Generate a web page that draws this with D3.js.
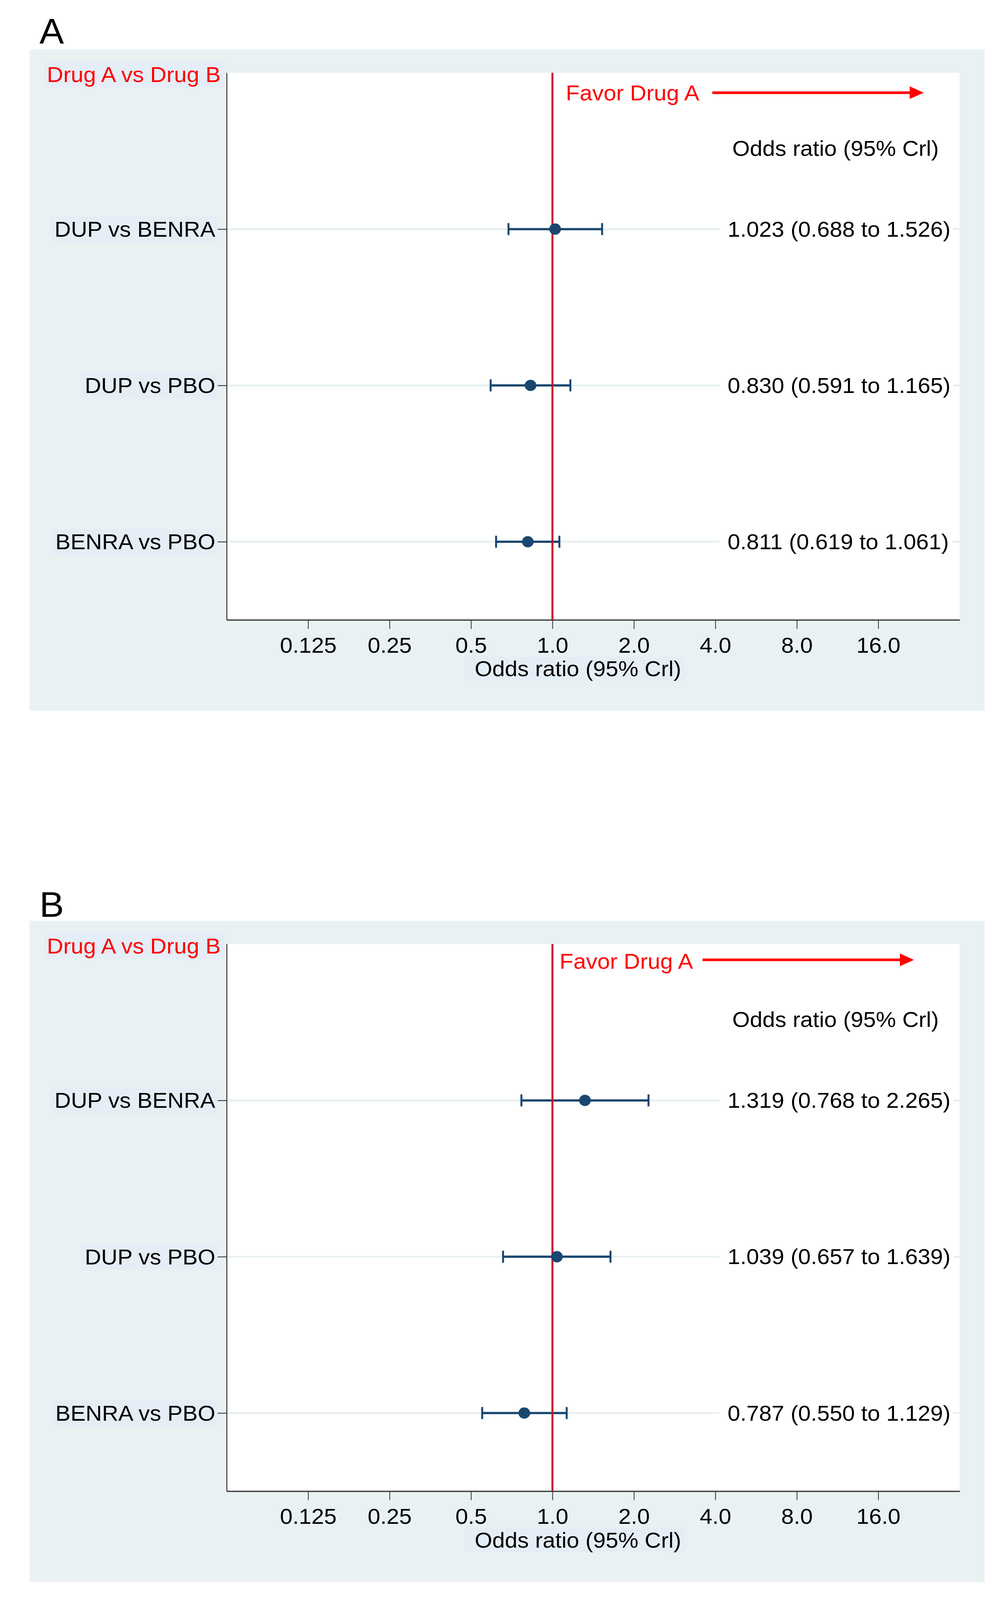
<!DOCTYPE html>
<html>
<head>
<meta charset="utf-8">
<script src="https://cdn.jsdelivr.net/npm/d3@7"></script>
<style>
  html, body { margin: 0; padding: 0; height: 100%; overflow: hidden; background: #fff; }
  svg { display: block; width: 100vw; height: 100vh; }
  text { font-family: "Liberation Sans", Arial, Helvetica, sans-serif; }
</style>
</head>
<body>
<svg id="chart" viewBox="0 0 2572 4264" preserveAspectRatio="none"></svg>
<script>
// data
const comparisons = ["DUP vs BENRA", "DUP vs PBO", "BENRA vs PBO"];

const orA   = [1.023, 0.830, 0.811];
const lowA  = [0.688, 0.591, 0.619];
const highA = [1.526, 1.165, 1.061];

const orB   = [1.319, 1.039, 0.787];
const lowB  = [0.768, 0.657, 0.550];
const highB = [2.265, 1.639, 1.129];

const tickValues = [0.125, 0.25, 0.5, 1, 2, 4, 8, 16];
const tickLabels = ["0.125", "0.25", "0.5", "1.0", "2.0", "4.0", "8.0", "16.0"];

const FONT = "'Liberation Sans', Arial, Helvetica, sans-serif";
const FS = 58;

const svg = d3.select("#chart");
svg.append("rect").attr("width", 2572).attr("height", 4264).attr("fill", "#fff");

// layout of one panel (panel B is the same, shifted down)
const bgLeft = 76, bgRight = 2520, bgTop = 132, bgBottom = 1894;
const plotLeft = 580, plotRight = 2456, plotTop = 194, plotBottom = 1652;

const x = d3.scaleLog().base(2).domain([1 / 16, 32]).range([plotLeft, plotRight]);
const y = d3.scaleLinear().domain([0, 3.5]).range([plotTop, plotBottom]);
const fmt = d3.format(".3f");

const navy = "#1a476f";
const bgColor = "#e9f1f3";
const boxColor = "#e5edf7";

const panels = [
  { letter: "A", or: orA, low: lowA, high: highA, offset: 0,
    letterY: 116, favorX: 1448, favorY: 268, arrowY: 247, arrowX0: 1823, arrowX1: 2364 },
  { letter: "B", or: orB, low: lowB, high: highB, offset: 2322,
    letterY: 121, favorX: 1432, favorY: 260, arrowY: 236, arrowX0: 1798, arrowX1: 2339 }
];

// put a rect behind a text element, sized from its bbox
function boxBehind(g, node, padL, padR, padV, fill) {
  const bb = node.getBBox();
  g.insert("rect", function () { return node; })
    .attr("x", bb.x - padL)
    .attr("y", bb.y - padV)
    .attr("width", bb.width + padL + padR)
    .attr("height", bb.height + 2 * padV)
    .attr("fill", fill);
}

function draw_panel(p) {
  const g = svg.append("g").attr("transform", "translate(0," + p.offset + ")");

  // panel letter
  g.append("text").attr("x", 101).attr("y", p.letterY)
    .attr("font-size", 94).attr("fill", "#000").text(p.letter);

  // graph region and plot region
  g.append("rect").attr("x", bgLeft).attr("y", bgTop)
    .attr("width", bgRight - bgLeft).attr("height", bgBottom - bgTop).attr("fill", bgColor);
  g.append("rect").attr("x", plotLeft).attr("y", plotTop)
    .attr("width", plotRight - plotLeft).attr("height", plotBottom - plotTop).attr("fill", "#fff");

  // row gridlines
  g.selectAll(".grid").data(comparisons).enter().append("line")
    .attr("x1", plotLeft).attr("x2", plotRight)
    .attr("y1", (d, i) => y(i + 1)).attr("y2", (d, i) => y(i + 1))
    .attr("stroke", "#e6eff1").attr("stroke-width", 5);

  // y axis with comparison names
  const yAxis = g.append("g").attr("transform", "translate(" + plotLeft + ",0)")
    .call(d3.axisLeft(y).tickValues([1, 2, 3]).tickFormat(d => comparisons[d - 1])
      .tickSize(23).tickSizeOuter(0).tickPadding(6));
  yAxis.attr("font-family", FONT).attr("font-size", FS);
  yAxis.select(".domain").attr("stroke", "#333").attr("stroke-width", 2.5);
  yAxis.selectAll(".tick line").attr("stroke", "#444").attr("stroke-width", 2.5);
  yAxis.selectAll(".tick text").attr("fill", "#000").attr("dy", "0.34em");
  yAxis.selectAll(".tick text").each(function () {
    boxBehind(d3.select(this.parentNode), this, 10, 4, 2, boxColor);
  });

  // x axis (log 2)
  const xAxis = g.append("g").attr("transform", "translate(0," + plotBottom + ")")
    .call(d3.axisBottom(x).tickValues(tickValues).tickFormat((d, i) => tickLabels[i])
      .tickSize(24).tickSizeOuter(0).tickPadding(22));
  xAxis.attr("font-family", FONT).attr("font-size", FS);
  xAxis.select(".domain").attr("stroke", "#3a3a3a").attr("stroke-width", 3.5);
  xAxis.selectAll(".tick line").attr("stroke", "#333").attr("stroke-width", 2);
  xAxis.selectAll(".tick text").attr("fill", "#000");

  // x axis title
  const xt = g.append("text").attr("x", 1479).attr("y", plotBottom + 150)
    .attr("text-anchor", "middle").attr("font-size", FS).attr("fill", "#000")
    .text("Odds ratio (95% Crl)");
  boxBehind(g, xt.node(), 24, 10, 0, boxColor);

  // corner label
  const dl = g.append("text").attr("x", 120).attr("y", 219)
    .attr("font-size", FS).attr("fill", "#ff0000").text("Drug A vs Drug B");
  boxBehind(g, dl.node(), 6, 10, 2, boxColor);

  // favour annotation with arrow
  g.append("text").attr("x", p.favorX).attr("y", p.favorY)
    .attr("font-size", FS).attr("fill", "#ff0000").text("Favor Drug A");
  g.append("line").attr("x1", p.arrowX0).attr("x2", p.arrowX1 - 34)
    .attr("y1", p.arrowY).attr("y2", p.arrowY)
    .attr("stroke", "#ff0000").attr("stroke-width", 7);
  g.append("path")
    .attr("d", "M" + (p.arrowX1 - 36) + "," + (p.arrowY - 17) + "L" + p.arrowX1 + "," + p.arrowY +
      "L" + (p.arrowX1 - 36) + "," + (p.arrowY + 17) + "Z")
    .attr("fill", "#ff0000");

  // column header
  g.append("text").attr("x", 1874).attr("y", y(0.48) + 21)
    .attr("font-size", FS).attr("fill", "#000").text("Odds ratio (95% Crl)");

  // value labels on white boxes (they break the gridline)
  g.selectAll(".val").data(p.or).enter().append("text")
    .attr("x", 1862).attr("y", (d, i) => y(i + 1) + 20)
    .attr("font-size", FS).attr("fill", "#000")
    .text((d, i) => fmt(d) + " (" + fmt(p.low[i]) + " to " + fmt(p.high[i]) + ")")
    .each(function () { boxBehind(g, this, 21, 8, 0, "#fff"); });

  // credible intervals
  const ci = g.append("g");
  p.or.forEach(function (d, i) {
    const yy = y(i + 1);
    ci.append("line").attr("x1", x(p.low[i])).attr("x2", x(p.high[i]))
      .attr("y1", yy).attr("y2", yy).attr("stroke", navy).attr("stroke-width", 6);
    [p.low[i], p.high[i]].forEach(function (v) {
      ci.append("line").attr("x1", x(v)).attr("x2", x(v))
        .attr("y1", yy - 16).attr("y2", yy + 16)
        .attr("stroke", navy).attr("stroke-width", 5);
    });
  });

  // line of no effect
  g.append("line").attr("x1", x(1)).attr("x2", x(1))
    .attr("y1", plotTop).attr("y2", plotBottom)
    .attr("stroke", "#c8102e").attr("stroke-width", 5);

  // point estimates
  g.selectAll(".dot").data(p.or).enter().append("circle")
    .attr("cx", d => x(d)).attr("cy", (d, i) => y(i + 1))
    .attr("r", 15).attr("fill", navy);
}

panels.forEach(draw_panel);
</script>
</body>
</html>
